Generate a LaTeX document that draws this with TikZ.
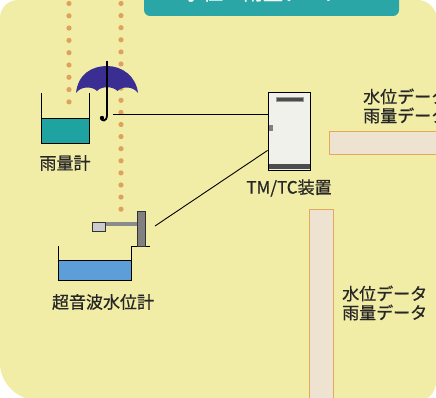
\documentclass[tikz,border=0pt]{standalone}
\usepackage{fontspec}
\setmainfont{Noto Sans CJK JP}[FakeBold=0.7]
\usetikzlibrary{calc}
\definecolor{panel}{HTML}{F2EDA6}
\definecolor{headteal}{HTML}{2AA6A6}
\definecolor{dotc}{HTML}{DFA25C}
\definecolor{gaugewater}{HTML}{1FA3A0}
\definecolor{tankwater}{HTML}{5E9ED8}
\definecolor{umbr}{HTML}{3A2E92}
\definecolor{ink}{HTML}{262626}
\definecolor{barfill}{HTML}{EDE3D0}
\definecolor{baredge}{HTML}{E3A860}
\definecolor{cabinet}{HTML}{F1F1EC}
\begin{document}
\begin{tikzpicture}[x=1pt,y=-1pt,
  lbl/.style={font=\fontsize{17}{19}\selectfont, text=ink, inner sep=0pt},
  wire/.style={draw=black, line width=0.9pt},
  dotmark/.style={fill=dotc},
  databar/.style={fill=barfill, draw=baredge, line width=1pt},
  outline/.style={draw=black, line width=0.9pt}]
\useasboundingbox (0,0) rectangle (436,398);
\clip (0,0) rectangle (436,398);

% background panel
\fill[panel] (0,18) .. controls (0,8) and (8,0) .. (18,0) -- (418,0)
  .. controls (428,0) and (437,9) .. (437,20) -- (437,372)
  .. controls (437,386) and (434,398) .. (422,400) -- (37,400)
  .. controls (17,400) and (0,383) .. (0,363) -- cycle;

% title bar
\fill[headteal, rounded corners=6] (144,-12) rectangle (399,16);
\node[anchor=base, text=white, font=\fontsize{20}{22}\selectfont, inner sep=0pt] (title) at (263,0) {水位・雨量データ};

% dotted rain paths
\foreach \i in {0,...,8} \fill[dotmark] (69,3.5+12.3*\i) circle (2.6);
\foreach \i in {0,...,17} \fill[dotmark] (121,3.5+12.1*\i) circle (2.6);

% data bars
\draw[databar] (329,132) rectangle (445,155);
\draw[databar] (309,209) rectangle (333,410);

% rain gauge
\fill[gaugewater] (41,118) rectangle (89,143);
\draw[outline] (41,118) -- (89,118);
\draw[outline] (41,93) -- (41,143) -- (89,143) -- (89,93);
\node[lbl] (gaugelbl) at (65,163) {雨量計};

% umbrella
\fill[umbr] (76,93) .. controls (78,74) and (92,66) .. (107,66)
  .. controls (122,66) and (136,76) .. (138,93)
  .. controls (133,86) and (122,86) .. (117.5,91)
  .. controls (112.5,86) and (101.5,86) .. (97,91)
  .. controls (92,86) and (81,86) .. (76,93) -- cycle;
\draw[line width=1.6pt] (107,61) -- (107,66);
\draw[line width=1.8pt] (107,66) -- (107,115) .. controls (107,122) and (101,122) .. (101,117);
\fill (102,118) circle (2.2);
\coordinate (umb) at (113,114);

% TM/TC cabinet
\node[draw=black, fill=cabinet, line width=0.9pt, minimum width=42, minimum height=78, inner sep=0pt] (tmtc) at (289,131) {};
\fill[black!70, draw=black!40, line width=0.4pt] (276,97) rectangle (303,101);
\fill[black!70] (268.5,164) rectangle (309.5,169.5);
\fill[black!50] (268.5,125) rectangle (273,131);
\node[lbl] (tmtclbl) at (289,188) {TM/TC装置};

% ultrasonic level gauge
\fill[tankwater] (58,260) rectangle (131,280);
\draw[outline] (58,260) -- (131,260);
\draw[outline] (58,246) -- (58,280) -- (131,280) -- (131,246) -- (150,246);
\draw[fill=black!50, draw=black!80, line width=0.6pt] (137,211) rectangle (145,246);
\fill[black!45] (104,222) rectangle (137,226);
\draw[fill=black!20, draw=black!80, line width=0.6pt] (92,222) rectangle (105,231);
\coordinate (sens) at (155,226);
\node[lbl] (ultralbl) at (103,302) {超音波水位計};

% signal wires
\draw[wire] (umb) -- (umb -| tmtc.west);
\draw[wire] (sens) -- ($(tmtc.south west)+(0,-20)$);

% data labels
\node[lbl, anchor=west, align=left] (data1) at (363,106) {水位データ\\雨量データ};
\node[lbl, anchor=west, align=left] (data2) at (342,303) {水位データ\\雨量データ};
\end{tikzpicture}
\end{document}
